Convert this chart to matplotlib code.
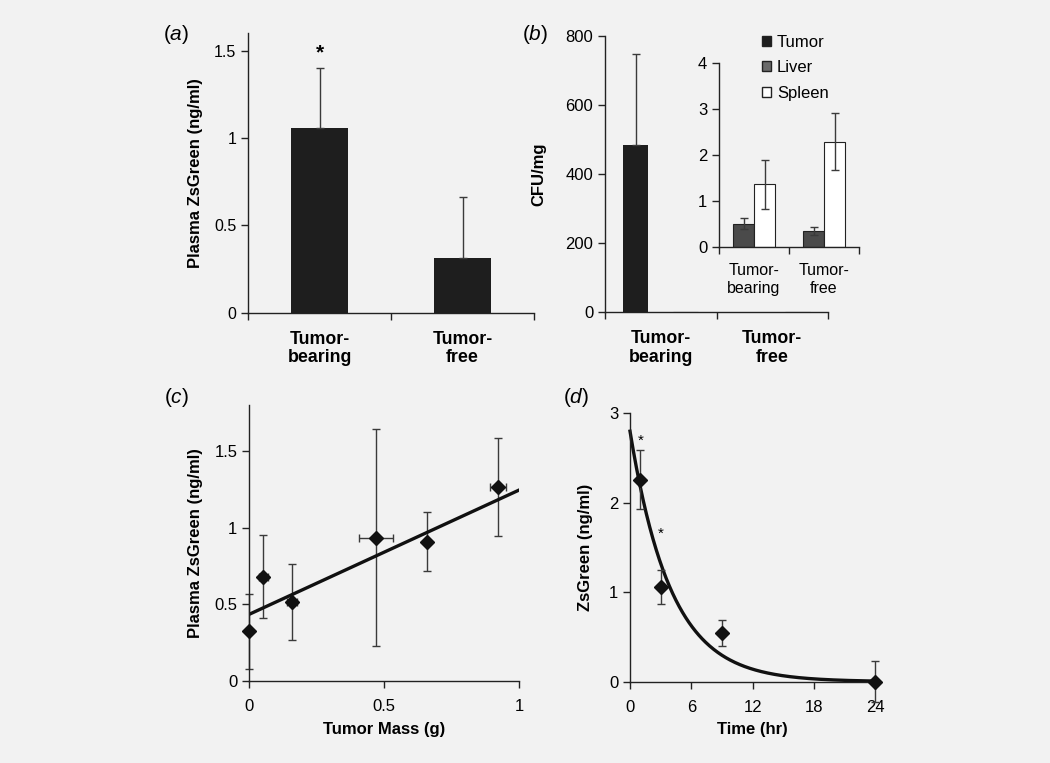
import numpy as np
import matplotlib
matplotlib.use("Agg")
import matplotlib.pyplot as plt
from matplotlib.patches import Patch
from matplotlib.ticker import FuncFormatter

plt.rcParams["font.family"] = ["Liberation Sans", "DejaVu Sans"]
plt.rcParams["mathtext.fontset"] = "custom"
plt.rcParams["mathtext.rm"] = "Liberation Sans"
plt.rcParams["mathtext.it"] = "Liberation Sans:italic"

BG = "#f2f2f2"
DARK = "#1e1e1e"
ERR = "#3a3a3a"

# (a) plasma ZsGreen
groups = ["Tumor-\nbearing", "Tumor-\nfree"]
plasma = [1.055, 0.315]
plasma_err = [0.345, 0.345]

# (b) CFU/mg
tumor_cfu = [484, 0]
tumor_cfu_err = [263, 0]
liver_cfu = [0.51, 0.36]
liver_cfu_err = [0.12, 0.09]
spleen_cfu = [1.37, 2.30]
spleen_cfu_err = [0.53, 0.62]

# (c) tumor mass vs plasma ZsGreen
mass = [0.0, 0.052, 0.159, 0.469, 0.657, 0.922]
mass_err = [0.0, 0.016, 0.018, 0.064, 0.0, 0.03]
zs_c = [0.324, 0.68, 0.515, 0.935, 0.909, 1.267]
zs_c_err = [0.245, 0.27, 0.245, 0.71, 0.19, 0.32]
fit_x = [0.0, 1.0]
fit_y = [0.435, 1.246]

# (d) time course
time_hr = [1, 3, 9, 24]
zs_d = [2.26, 1.058, 0.54, 0.0]
zs_d_err = [0.335, 0.19, 0.145, 0.23]
decay_c0 = 2.8
decay_k = 0.25


def fmt(v, pos):
    return "%g" % v


def style(ax, size=12):
    ax.set_facecolor("none")
    for s in ["top", "right"]:
        ax.spines[s].set_visible(False)
    for s in ["left", "bottom"]:
        ax.spines[s].set_linewidth(1.0)
        ax.spines[s].set_color("#222222")
    ax.tick_params(axis="both", which="major", direction="out", length=5,
                   width=1.0, color="#222222", labelsize=size)
    ax.yaxis.set_major_formatter(FuncFormatter(fmt))


def cat_ticks(ax, n, size, bold, pad, spacing):
    ax.set_xlim(0, n)
    ax.set_xticks(np.arange(n + 1))
    ax.set_xticklabels([])
    ax.set_xticks(np.arange(n) + 0.5, minor=True)
    ax.set_xticklabels(groups, minor=True, fontsize=size,
                       fontweight="bold" if bold else "normal", linespacing=spacing)
    ax.tick_params(axis="x", which="minor", length=0, pad=pad)


fig = plt.figure(figsize=(10.5, 7.63), dpi=100, facecolor=BG)

# panel a
ax_a = fig.add_axes([0.2362, 0.5902, 0.2724, 0.3665])
style(ax_a, 11.5)
xa = np.arange(2) + 0.5
ax_a.bar(xa, plasma, width=0.4, color=DARK)
ax_a.errorbar(xa, plasma, yerr=[[0, 0], plasma_err], fmt="none",
              ecolor=ERR, elinewidth=1, capsize=3)
ax_a.text(xa[0], 1.43, "*", ha="center", va="bottom", fontsize=15, fontweight="bold")
ax_a.set_ylim(0, 1.6)
ax_a.set_yticks([0, 0.5, 1, 1.5])
cat_ticks(ax_a, 2, 12.8, True, 13, 1.1)
ax_a.set_ylabel("Plasma ZsGreen (ng/ml)", fontsize=12, fontweight="bold")
ax_a.yaxis.set_label_coords(-0.157, 0.5)

# panel b
ax_b = fig.add_axes([0.5762, 0.5907, 0.2124, 0.3625])
style(ax_b)
xb = np.arange(2) + 0.5
w = 0.225
ax_b.bar(xb - w, tumor_cfu, width=w, color=DARK)
ax_b.errorbar(xb[:1] - w, tumor_cfu[:1], yerr=[[0], tumor_cfu_err[:1]], fmt="none",
              ecolor=ERR, elinewidth=1, capsize=3)
ax_b.bar(xb, liver_cfu, width=w, color="#4a4a4a", edgecolor="none")
ax_b.bar(xb + w, spleen_cfu, width=w, color="white", edgecolor="#222222", linewidth=0.8)
ax_b.set_ylim(0, 800)
ax_b.set_yticks([0, 200, 400, 600, 800])
cat_ticks(ax_b, 2, 12.8, True, 13, 1.1)
ax_b.set_ylabel("CFU/mg", fontsize=12, fontweight="bold")
ax_b.yaxis.set_label_coords(-0.265, 0.5)

# inset
ax_i = fig.add_axes([0.6848, 0.6759, 0.1333, 0.2411])
style(ax_i)
wi = 0.3
ax_i.bar(xb - wi / 2, liver_cfu, width=wi, color="#4a4a4a", edgecolor="#222222", linewidth=0.8)
ax_i.bar(xb + wi / 2, spleen_cfu, width=wi, color="white", edgecolor="#222222", linewidth=0.8)
ax_i.errorbar(xb - wi / 2, liver_cfu, yerr=liver_cfu_err, fmt="none",
              ecolor=ERR, elinewidth=1, capsize=3)
ax_i.errorbar(xb + wi / 2, spleen_cfu, yerr=spleen_cfu_err, fmt="none",
              ecolor=ERR, elinewidth=1, capsize=3)
ax_i.set_ylim(0, 4)
ax_i.set_yticks([0, 1, 2, 3, 4])
cat_ticks(ax_i, 2, 11.5, False, 11, 1.3)

fig.legend(handles=[Patch(facecolor=DARK, edgecolor="#222222", label="Tumor"),
                    Patch(facecolor="#6a6a6a", edgecolor="#222222", label="Liver"),
                    Patch(facecolor="white", edgecolor="#222222", label="Spleen")],
           loc="upper left", bbox_to_anchor=(0.7178, 0.965), frameon=False,
           fontsize=12, handlelength=0.55, handleheight=0.55, handletextpad=0.35,
           borderpad=0, labelspacing=0.62)

# panel c
ax_c = fig.add_axes([0.2374, 0.1075, 0.2572, 0.3617])
style(ax_c)
ax_c.errorbar(mass, zs_c, yerr=zs_c_err, xerr=mass_err, fmt="none",
              ecolor=ERR, elinewidth=1, capsize=3, clip_on=False)
ax_c.plot(fit_x, fit_y, color="#111111", lw=2.4)
ax_c.plot(mass, zs_c, "D", color="#111111", ms=7, clip_on=False, zorder=5)
ax_c.set_xlim(0, 1)
ax_c.set_ylim(0, 1.8)
ax_c.set_xticks([0, 0.5, 1])
ax_c.set_yticks([0, 0.5, 1, 1.5])
ax_c.xaxis.set_major_formatter(FuncFormatter(fmt))
ax_c.tick_params(axis="x", pad=8)
ax_c.set_ylabel("Plasma ZsGreen (ng/ml)", fontsize=12, fontweight="bold")
ax_c.yaxis.set_label_coords(-0.171, 0.5)
ax_c.set_xlabel("Tumor Mass (g)", fontsize=12, fontweight="bold")
ax_c.xaxis.set_label_coords(0.5, -0.149)

# panel d
ax_d = fig.add_axes([0.6, 0.1066, 0.2336, 0.3517])
style(ax_d)
t = np.linspace(0, 24, 300)
ax_d.plot(t, decay_c0 * np.exp(-decay_k * t), color="#111111", lw=2.4, clip_on=False)
ax_d.errorbar(time_hr, zs_d, yerr=zs_d_err, fmt="none",
              ecolor=ERR, elinewidth=1, capsize=3, clip_on=False)
ax_d.plot(time_hr, zs_d, "D", color="#111111", ms=7, clip_on=False, zorder=5)
ax_d.text(time_hr[0], 2.62, "*", ha="center", va="bottom", fontsize=11)
ax_d.text(time_hr[1], 1.58, "*", ha="center", va="bottom", fontsize=11)
ax_d.set_xlim(0, 24)
ax_d.set_ylim(0, 3)
ax_d.set_xticks([0, 6, 12, 18, 24])
ax_d.set_yticks([0, 1, 2, 3])
ax_d.tick_params(axis="x", pad=8)
ax_d.set_ylabel("ZsGreen (ng/ml)", fontsize=12, fontweight="bold")
ax_d.yaxis.set_label_coords(-0.151, 0.5)
ax_d.set_xlabel("Time (hr)", fontsize=12, fontweight="bold")
ax_d.xaxis.set_label_coords(0.5, -0.150)

for lab, x, y in [("a", 163, 35), ("b", 522, 35), ("c", 164, 398), ("d", 563, 398)]:
    fig.text(x / 1050, 1 - y / 763, "($\\it{%s}$)" % lab, fontsize=15,
             ha="left", va="center")

fig.savefig("out.png", dpi=100, facecolor=BG)
